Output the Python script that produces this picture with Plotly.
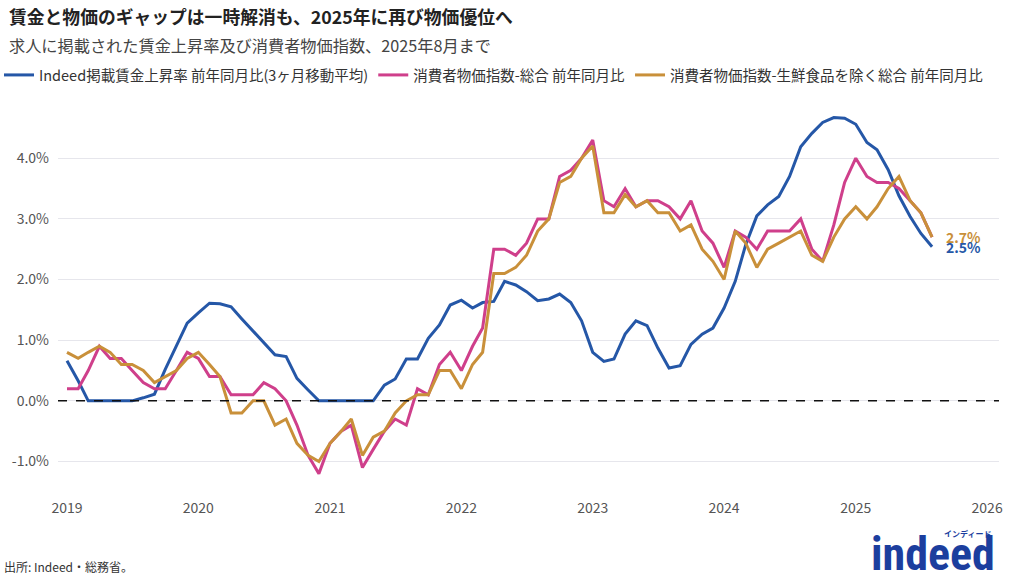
import pandas as pd
import plotly.graph_objects as go

# ---- data (monthly, 2019-01 .. 2025-08) ----
start_month = "2019-01-01"
n_months = 80

indeed_wage = [
    0.66, 0.33, 0.00, 0.00, 0.00, 0.00, 0.00, 0.05, 0.11, 0.52, 0.90, 1.28,
    1.45, 1.61, 1.60, 1.55, 1.35, 1.15, 0.95, 0.76, 0.73, 0.37, 0.18, 0.00,
    0.00, 0.00, 0.00, 0.00, 0.00, 0.26, 0.36, 0.69, 0.69, 1.03, 1.25, 1.58,
    1.66, 1.53, 1.62, 1.64, 1.97, 1.91, 1.80, 1.65, 1.68, 1.76, 1.62, 1.32,
    0.80, 0.65, 0.69, 1.10, 1.32, 1.24, 0.87, 0.54, 0.58, 0.93, 1.10, 1.20,
    1.53, 1.97, 2.57, 3.05, 3.23, 3.37, 3.70, 4.19, 4.41, 4.59, 4.67, 4.66,
    4.56, 4.26, 4.14, 3.81, 3.38, 3.04, 2.76, 2.54,
]

cpi_total = [
    0.2, 0.2, 0.5, 0.9, 0.7, 0.7, 0.5, 0.3, 0.2, 0.2, 0.5, 0.8,
    0.7, 0.4, 0.4, 0.1, 0.1, 0.1, 0.3, 0.2, 0.0, -0.4, -0.9, -1.2,
    -0.7, -0.5, -0.4, -1.1, -0.8, -0.5, -0.3, -0.4, 0.2, 0.1, 0.6, 0.8,
    0.5, 0.9, 1.2, 2.5, 2.5, 2.4, 2.6, 3.0, 3.0, 3.7, 3.8, 4.0,
    4.3, 3.3, 3.2, 3.5, 3.2, 3.3, 3.3, 3.2, 3.0, 3.3, 2.8, 2.6,
    2.2, 2.8, 2.7, 2.5, 2.8, 2.8, 2.8, 3.0, 2.5, 2.3, 2.9, 3.6,
    4.0, 3.7, 3.6, 3.6, 3.5, 3.3, 3.1, 2.7,
]

cpi_core = [
    0.8, 0.7, 0.8, 0.9, 0.8, 0.6, 0.6, 0.5, 0.3, 0.4, 0.5, 0.7,
    0.8, 0.6, 0.4, -0.2, -0.2, 0.0, 0.0, -0.4, -0.3, -0.7, -0.9, -1.0,
    -0.7, -0.5, -0.3, -0.9, -0.6, -0.5, -0.2, 0.0, 0.1, 0.1, 0.5, 0.5,
    0.2, 0.6, 0.8, 2.1, 2.1, 2.2, 2.4, 2.8, 3.0, 3.6, 3.7, 4.0,
    4.2, 3.1, 3.1, 3.4, 3.2, 3.3, 3.1, 3.1, 2.8, 2.9, 2.5, 2.3,
    2.0, 2.8, 2.6, 2.2, 2.5, 2.6, 2.7, 2.8, 2.4, 2.3, 2.7, 3.0,
    3.2, 3.0, 3.2, 3.5, 3.7, 3.3, 3.1, 2.7,
]

series_names = [
    "Indeed掲載賃金上昇率 前年同月比(3ヶ月移動平均)",
    "消費者物価指数-総合 前年同月比",
    "消費者物価指数-生鮮食品を除く総合 前年同月比",
]
series_colors = ["#2557a7", "#cf3f8b", "#c9903a"]

y_tickvals = [-1, 0, 1, 2, 3, 4]
y_ticktext = ["-1.0%", "0.0%", "1.0%", "2.0%", "3.0%", "4.0%"]
x_tickyears = list(range(2019, 2027))

title_text = "賃金と物価のギャップは一時解消も、2025年に再び物価優位へ"
subtitle_text = "求人に掲載された賃金上昇率及び消費者物価指数、2025年8月まで"
source_text = "出所: Indeed・総務省。"

# ---- layout geometry (pixels) ----
W, H = 1024, 585
PL, PR, PT, PB = 58, 25, 100, 95
FONT = "Noto Sans CJK JP, Noto Sans, sans-serif"


def pxx(px):
    return (px - PL) / (W - PL - PR)


def pxy(py):
    return (H - PB - py) / (H - PT - PB)


# ---- figure ----
dates = pd.date_range(start_month, periods=n_months, freq="MS")

fig = go.Figure()
for name, vals, col in zip(series_names, [indeed_wage, cpi_total, cpi_core], series_colors):
    fig.add_trace(go.Scatter(
        x=dates, y=vals, name=name, mode="lines",
        line=dict(color=col, width=3),
        hovertemplate="%{x|%Y-%m}: %{y:.1f}%<extra></extra>",
    ))

# zero reference line
fig.add_shape(type="line", xref="paper", yref="y", x0=0, x1=1, y0=0, y1=0,
              line=dict(color="#111111", width=1.5, dash="dash"), layer="above")

# end labels
last_date = dates[-1]
for vals, col in [(cpi_core, series_colors[2]), (indeed_wage, series_colors[0])]:
    fig.add_annotation(x=last_date, y=vals[-1], text=f"<b>{vals[-1]:.1f}%</b>",
                       xanchor="left", yanchor="middle", xshift=12, showarrow=False,
                       font=dict(family=FONT, size=14, color=col))

# title / subtitle / source
texts = [
    (7, 16, f"<b>{title_text}</b>", 17.8, "#222222"),
    (7, 45, subtitle_text, 16.2, "#444444"),
    (2, 566, source_text, 12, "#333333"),
]
for x0, y0, txt, sz, colr in texts:
    fig.add_annotation(xref="paper", yref="paper", x=pxx(x0), y=pxy(y0),
                       xanchor="left", yanchor="middle", showarrow=False, text=txt,
                       font=dict(family=FONT, size=sz, color=colr))

# Indeed logo as text
fig.add_annotation(xref="paper", yref="paper", x=pxx(997), y=pxy(554),
                   xanchor="right", yanchor="middle", showarrow=False,
                   text="<b>indeed</b>",
                   font=dict(family="Roboto Condensed, Roboto, Arial", size=46, color="#1c3e9e"))
fig.add_annotation(xref="paper", yref="paper", x=pxx(993), y=pxy(533),
                   xanchor="right", yanchor="middle", showarrow=False,
                   text="<b>インディード</b>",
                   font=dict(family=FONT, size=8, color="#1c3e9e"))

fig.update_layout(
    width=W, height=H,
    margin=dict(l=PL, r=PR, t=PT, b=PB, autoexpand=False),
    paper_bgcolor="white", plot_bgcolor="white",
    font=dict(family=FONT, size=14, color="#555555"),
    showlegend=True,
    legend=dict(orientation="h", x=pxx(-1), y=pxy(75),
                xanchor="left", yanchor="middle",
                font=dict(family=FONT, size=14.5, color="#333333"),
                itemwidth=30, tracegroupgap=0, bgcolor="rgba(0,0,0,0)"),
    hovermode="x unified",
)
fig.update_xaxes(
    type="date", automargin=False,
    range=["2018-12-07", "2026-02-03"],
    tickvals=[pd.Timestamp(f"{y}-01-01") for y in x_tickyears],
    ticktext=[str(y) for y in x_tickyears],
    showgrid=False, showline=False, zeroline=False, ticks="",
    ticklabelstandoff=8,
    tickfont=dict(family=FONT, size=14, color="#555555"),
)
fig.update_yaxes(
    range=[-1.47, 4.96], automargin=False,
    tickvals=y_tickvals, ticktext=y_ticktext,
    showgrid=True, gridcolor="#e6e6ec", gridwidth=1,
    showline=False, zeroline=False, ticks="",
    ticklabelstandoff=8,
    tickfont=dict(family=FONT, size=14, color="#555555"),
)

fig.write_html("out.html", config={"displayModeBar": False},
               post_script="document.body.style.margin='0';")
